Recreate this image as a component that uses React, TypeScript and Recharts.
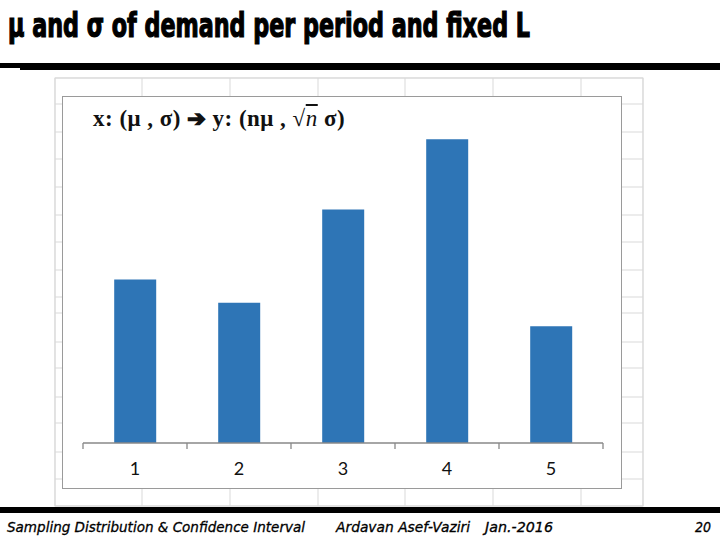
import React from "react";
import { BarChart, Bar, XAxis, YAxis } from "recharts";

const periods = ["1", "2", "3", "4", "5"];
const demand = [7, 6, 10, 13, 5];
const yMax = 14;

const pageTitle = "μ and σ of demand per period and fixed L";
const footerItems = [
  { text: "Sampling Distribution & Confidence Interval", x: 7, w: 298 },
  { text: "Ardavan Asef-Vaziri", x: 336, w: 134 },
  { text: "Jan.-2016", x: 485, w: 68 },
  { text: "20", x: 695, w: 16 },
];

const gridCols = [55, 142, 230, 318, 405, 493, 581, 643];
const gridRows = [78, 104, 132, 159, 187, 215, 242, 270, 297, 313, 342, 368, 397, 423, 452, 479, 506];

const CHART_W = 560;
const CHART_H = 393;
const MARGIN = { top: 20, right: 19, left: 21, bottom: 0 };
const BAND = (CHART_W - MARGIN.left - MARGIN.right) / periods.length;

const data = periods.map((p, i) => ({ period: p, value: demand[i] }));

function PeriodTick(props: any) {
  const { x, y, payload, index } = props;
  const last = index === periods.length - 1;
  return (
    <g>
      <line x1={x - BAND / 2} x2={x - BAND / 2} y1={y} y2={y + 6} stroke="#888" strokeWidth={1.3} />
      {last && <line x1={x + BAND / 2} x2={x + BAND / 2} y1={y} y2={y + 6} stroke="#888" strokeWidth={1.3} />}
      <text x={x} y={y + 32} textAnchor="middle" fontSize={18} fontFamily="Lato, 'Open Sans', sans-serif" fill="#111">
        {payload.value}
      </text>
    </g>
  );
}

export default function App() {
  return (
    <div style={{ position: "absolute", left: 0, top: 0, width: 720, height: 540, background: "#fff", overflow: "hidden" }}>
      <svg width={720} height={540} style={{ position: "absolute", left: 0, top: 0 }}>
        <text
          x={8}
          y={37}
          textLength={522}
          lengthAdjust="spacingAndGlyphs"
          fontSize={33}
          fontWeight={700}
          fontFamily="'Liberation Sans Narrow', 'DejaVu Sans Condensed', 'Liberation Sans', sans-serif"
          fill="#000"
          stroke="#000"
          strokeWidth={1.2}
        >
          {pageTitle}
        </text>
        <rect x={20} y={63} width={700} height={7} fill="#000" />
        <rect x={0} y={63} width={20} height={5} fill="#000" />

        {/* spreadsheet grid behind the chart */}
        <rect x={55} y={78} width={588} height={428} fill="#fff" stroke="#d9d9d9" />
        {gridCols.map((c) => (
          <line key={"c" + c} x1={c} x2={c} y1={78} y2={506} stroke="#d9d9d9" />
        ))}
        {gridRows.map((r) => (
          <line key={"r" + r} x1={55} x2={643} y1={r} y2={r} stroke="#d9d9d9" />
        ))}

        <rect x={0} y={507} width={720} height={6} fill="#000" />
        {footerItems.map((f) => (
          <text
            key={f.text}
            x={f.x}
            y={532}
            textLength={f.w}
            lengthAdjust="spacingAndGlyphs"
            fontSize={14}
            fontStyle="italic"
            fontFamily="'DejaVu Sans', Verdana, sans-serif"
            fill="#000"
            stroke="#000"
            strokeWidth={0.3}
          >
            {f.text}
          </text>
        ))}
      </svg>

      <div
        style={{
          position: "absolute",
          left: 62,
          top: 96,
          width: CHART_W - 2,
          height: CHART_H - 2,
          border: "1.5px solid #9a9a9a",
          background: "#fff",
        }}
      />

      <div style={{ position: "absolute", left: 62, top: 96 }}>
        <BarChart width={CHART_W} height={CHART_H} data={data} margin={MARGIN} barCategoryGap="30%">
          <XAxis
            dataKey="period"
            height={46}
            tickSize={0}
            tickMargin={0}
            tickLine={false}
            axisLine={{ stroke: "#888", strokeWidth: 1.3 }}
            tick={<PeriodTick />}
            interval={0}
          />
          <YAxis hide domain={[0, yMax]} />
          <Bar dataKey="value" fill="#2E75B6" isAnimationActive={false} />
        </BarChart>
      </div>

      <div
        style={{
          position: "absolute",
          left: 93,
          top: 106,
          fontFamily: "'Liberation Serif', 'DejaVu Serif', serif",
          fontWeight: 700,
          fontSize: 23,
          color: "#111",
          whiteSpace: "nowrap",
          letterSpacing: 0.5,
        }}
      >
        x: (μ , σ){" "}
        <span style={{ fontFamily: "'DejaVu Sans', sans-serif", fontSize: 22, WebkitTextStroke: "1.6px #111" }}>➔</span>{" "}
        y: (nμ , √
        <span style={{ textDecoration: "overline", fontStyle: "italic", fontWeight: 400 }}>n</span> σ)
      </div>
    </div>
  );
}
